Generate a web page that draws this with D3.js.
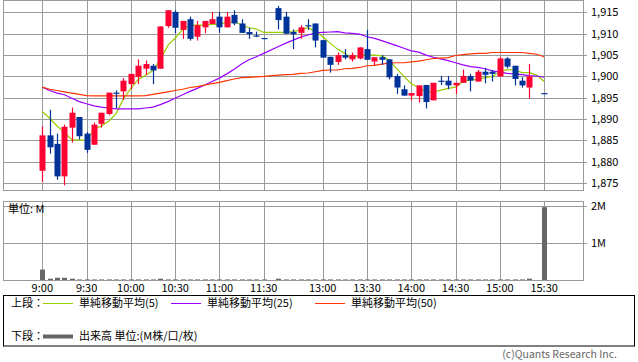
<!DOCTYPE html>
<meta charset="utf-8">
<style>
body { margin: 0; background: #fff; }
svg { display: block; font-family: "Noto Sans CJK JP", "DejaVu Sans", sans-serif; }
.grid line { stroke: #999; shape-rendering: crispEdges; }
.frame { fill: none; stroke: #999; shape-rendering: crispEdges; }
.lbl { font-size: 11px; fill: #000; }
</style>
<svg width="638" height="362"></svg>
<script src="https://cdn.jsdelivr.net/npm/d3@7"></script>
<script>

// 5-minute bars (15:25 is the closing auction: no bar)
var times = ["9:00","9:05","9:10","9:15","9:20","9:25","9:30","9:35","9:40","9:45","9:50","9:55",
  "10:00","10:05","10:10","10:15","10:20","10:25","10:30","10:35","10:40","10:45","10:50","10:55",
  "11:00","11:05","11:10","11:15","11:20","11:25","11:30",
  "12:30","12:35","12:40","12:45","12:50","12:55","13:00","13:05","13:10","13:15","13:20","13:25",
  "13:30","13:35","13:40","13:45","13:50","13:55","14:00","14:05","14:10","14:15","14:20","14:25",
  "14:30","14:35","14:40","14:45","14:50","14:55","15:00","15:05","15:10","15:15","15:20","15:25","15:30"];

var open = [1877.9,1886.2,1884.2,1876.6,1888.0,1890.5,1886.6,1884.0,1888.9,1891.2,1896.2,1896.5,
  1898.2,1899.9,1901.8,1902.5,1901.8,1911.8,1915.1,1910.9,1913.4,1909.3,1911.5,1912.3,
  1914.0,1911.5,1914.4,1912.4,1910.4,1909.6,1909.0,
  1916.0,1914.0,1910.4,1910.2,1912.0,1912.4,1908.5,1904.6,1903.4,1905.0,1904.0,1904.2,
  1906.4,1903.5,1904.5,1904.0,1900.1,1897.0,1895.5,1895.4,1898.0,1894.4,1899.0,1899.0,
  1897.9,1898.5,1900.1,1898.8,1901.1,1901.1,1900.0,1904.2,1902.5,1899.0,1897.4,null,1896.1];
var high = [1888.3,1892.2,1886.6,1888.7,1892.7,1890.5,1887.0,1889.2,1891.5,1896.2,1896.7,1899.6,
  1900.6,1904.0,1903.7,1902.9,1911.7,1915.5,1915.5,1913.0,1914.0,1913.0,1913.0,1915.1,
  1915.1,1915.1,1915.5,1913.4,1911.4,1910.5,1909.0,
  1916.5,1915.1,1911.0,1912.0,1913.4,1912.4,1908.5,1904.6,1905.6,1906.4,1905.6,1906.8,
  1910.9,1904.5,1905.0,1904.0,1900.6,1897.9,1896.1,1897.9,1898.0,1898.5,1900.1,1900.1,
  1898.5,1901.6,1900.6,1901.5,1902.0,1901.5,1904.6,1904.5,1902.5,1899.8,1902.9,null,1896.1];
var low = [1875.3,1881.9,1875.8,1874.5,1884.5,1885.2,1882.1,1884.0,1888.0,1890.9,1892.6,1894.5,
  1897.0,1898.2,1900.4,1898.2,1901.8,1911.4,1910.1,1908.8,1908.4,1908.4,1910.1,1912.3,
  1910.2,1911.5,1912.0,1910.2,1908.8,1909.2,1909.0,
  1911.0,1909.9,1906.4,1908.8,1910.9,1906.8,1904.4,1900.9,1902.7,1904.0,1903.5,1904.0,
  1903.9,1902.6,1902.7,1899.3,1895.9,1895.5,1894.4,1893.9,1892.5,1894.4,1898.0,1897.0,
  1895.9,1898.5,1896.5,1898.8,1898.4,1898.8,1900.0,1901.9,1897.9,1897.4,1894.8,null,1896.1];
var close = [1886.2,1883.4,1876.6,1888.2,1891.5,1886.0,1882.8,1888.7,1891.5,1896.2,1896.1,1899.0,
  1900.6,1902.5,1902.9,1901.4,1911.7,1915.5,1911.4,1913.0,1908.8,1912.0,1913.0,1913.4,
  1911.5,1914.0,1912.4,1910.2,1909.9,1909.5,1908.9,
  1913.2,1910.0,1909.9,1911.5,1911.9,1908.4,1904.4,1902.7,1905.0,1904.4,1905.0,1906.8,
  1903.9,1904.5,1903.9,1899.8,1897.4,1895.5,1896.1,1897.9,1894.0,1898.5,1898.9,1897.9,
  1898.5,1900.1,1899.0,1901.1,1900.4,1900.6,1904.2,1902.3,1899.4,1897.9,1900.0,null,1895.9];

// volume, millions of shares
var volume = [0.28,0.035,0.06,0.06,0.035,0.015,0.015,0.015,0.015,0.015,0.015,0.015,
  0.015,0.015,0.015,0.015,0.035,0.015,0.015,0.015,0.015,0.015,0.015,0.015,
  0.015,0.015,0.015,0.015,0.015,0.015,0.015,
  0.035,0.015,0.015,0.015,0.015,0.015,0.015,0.015,0.015,0.015,0.015,0.015,
  0.015,0.015,0.015,0.015,0.015,0.015,0.015,0.015,0.015,0.015,0.015,0.015,
  0.015,0.015,0.015,0.015,0.015,0.015,0.015,0.015,0.015,0.015,0.035,0,1.96];

// moving averages
var sma5 = [1891.8,1890.2,1888.4,1886.9,1885.2,1885.1,1885.0,1887.6,1888.4,1889.5,1891.3,1894.8,
  1897.2,1899.3,1900.3,1901.4,1904.0,1907.2,1909.0,1910.9,1912.0,1912.0,1912.0,1912.2,
  1912.2,1912.7,1912.8,1912.1,1911.4,1911.1,1910.3,
  1910.3,1910.3,1910.5,1910.9,1911.4,1910.5,1909.3,1907.8,1906.4,1905.4,1904.2,1905.0,
  1905.0,1905.0,1904.8,1903.8,1901.9,1900.0,1898.3,1897.4,1896.4,1896.3,1896.8,1897.2,
  1897.5,1898.8,1899.2,1899.3,1899.7,1900.0,1901.1,1901.6,1901.5,1900.9,1900.9,1900.3,1898.8];
var sma25 = [1897.5,1896.7,1896.1,1895.7,1894.9,1894.1,1893.6,1893.1,1892.8,1892.6,1892.4,1892.4,
  1892.4,1892.4,1892.6,1892.8,1893.4,1894.1,1894.9,1895.7,1896.5,1897.2,1898.0,1898.8,
  1899.6,1900.6,1901.7,1902.9,1903.9,1904.6,1905.4,
  1907.0,1907.8,1908.5,1909.2,1909.7,1910.2,1910.3,1910.4,1910.5,1910.2,1910.1,1909.9,
  1909.3,1908.9,1908.4,1907.8,1907.2,1906.6,1906.0,1905.7,1905.0,1904.5,1904.1,1903.7,
  1903.2,1902.7,1902.3,1902.1,1901.8,1901.3,1901.0,1900.7,1900.6,1900.4,1900.2,1900.1,1899.8];
var sma50 = [1897.5,1897.0,1896.7,1896.4,1896.1,1895.8,1895.5,1895.45,1895.45,1895.45,1895.45,1895.45,
  1895.45,1895.45,1895.5,1895.8,1896.1,1896.4,1896.7,1897.0,1897.4,1897.6,1898.0,1898.3,
  1898.6,1899.0,1899.4,1899.7,1899.8,1899.9,1900.0,
  1900.3,1900.4,1900.5,1900.7,1900.8,1901.1,1901.4,1901.5,1901.5,1901.8,1901.9,1902.1,
  1902.5,1902.6,1902.9,1903.1,1903.2,1903.2,1903.4,1903.6,1903.9,1904.2,1904.3,1904.4,
  1904.9,1905.1,1905.3,1905.4,1905.4,1905.6,1905.6,1905.6,1905.6,1905.6,1905.4,1905.2,1904.6];

var priceTicks = [1875,1880,1885,1890,1895,1900,1905,1910,1915];
var volumeTicks = [1,2];
var timeTicks = ["9:00","9:30","10:00","10:30","11:00","11:30","13:00","13:30","14:00","14:30","15:00","15:30"];

var legendTop = [
  {name: "単純移動平均(5)", color: "#99cc00", x: 43},
  {name: "単純移動平均(25)", color: "#9900ff", x: 171},
  {name: "単純移動平均(50)", color: "#ff3300", x: 315}
];

var upColor = "#ff0033", downColor = "#003399";

var svg = d3.select("svg");

function minutes(t) { var p = t.split(":"); return +p[0] * 60 + +p[1]; }

// trading-time scale: the lunch break collapses to a two-slot gap
var step = 7.38;
var x = d3.scaleLinear()
    .domain([540, 690, 750, 930])
    .range([42.3, 42.3 + 30 * step, 42.3 + 32 * step, 42.3 + 68 * step]);

var left = 3, right = 583;
var y = d3.scaleLinear().domain([1873.4, 1917.9]).range([190, 0]);
var yv = d3.scaleLinear().domain([0, 2.1]).range([280, 202]);

var bars = times.map(function(t, i) {
  return {t: t, x: x(minutes(t)), o: open[i], h: high[i], l: low[i], c: close[i], v: volume[i]};
});

// ---- price panel grid
var grid = svg.append("g").attr("class", "grid");
grid.selectAll(".py").data(priceTicks).enter().append("line")
    .attr("x1", left).attr("x2", right + 4)
    .attr("y1", function(d) { return Math.round(y(d)) + 0.5; })
    .attr("y2", function(d) { return Math.round(y(d)) + 0.5; });
grid.selectAll(".px").data(timeTicks).enter().append("line")
    .attr("x1", function(d) { return Math.round(x(minutes(d))) + 0.5; })
    .attr("x2", function(d) { return Math.round(x(minutes(d))) + 0.5; })
    .attr("y1", 0).attr("y2", 190);
svg.append("rect").attr("class", "frame")
    .attr("x", left + 0.5).attr("y", 0.5).attr("width", right - left).attr("height", 189.5);

svg.append("g").selectAll("text").data(priceTicks).enter().append("text")
    .attr("class", "lbl")
    .attr("x", 591).attr("y", function(d) { return y(d); }).attr("dy", "0.35em")
    .text(d3.format(","));

// ---- moving averages
var line = d3.line().x(function(d) { return d[0]; }).y(function(d) { return y(d[1]); });
[[sma5, "#99cc00"], [sma25, "#9900ff"], [sma50, "#ff3300"]].forEach(function(s) {
  svg.append("path")
      .datum(bars.map(function(b, i) { return [b.x, s[0][i]]; }))
      .attr("fill", "none").attr("stroke", s[1]).attr("stroke-width", 1.2)
      .attr("d", line);
});

// ---- candles
var candle = svg.append("g").selectAll("g")
  .data(bars.filter(function(b) { return b.o != null; }))
  .enter().append("g");
candle.append("line")
    .attr("x1", function(d) { return Math.round(d.x) + 0.5; })
    .attr("x2", function(d) { return Math.round(d.x) + 0.5; })
    .attr("y1", function(d) { return y(d.h); })
    .attr("y2", function(d) { return y(d.l); })
    .attr("stroke", function(d) { return d.c >= d.o ? upColor : downColor; })
    .attr("stroke-width", 1.2);
candle.append("rect")
    .attr("x", function(d) { return Math.round(d.x) - 2.5; })
    .attr("width", 6)
    .attr("y", function(d) { return y(Math.max(d.o, d.c)); })
    .attr("height", function(d) { return Math.max(1.2, Math.abs(y(d.o) - y(d.c))); })
    .attr("fill", function(d) { return d.c >= d.o ? upColor : downColor; });

// ---- volume panel
var vgrid = svg.append("g").attr("class", "grid");
vgrid.selectAll(".vy").data(volumeTicks).enter().append("line")
    .attr("x1", left).attr("x2", right + 4)
    .attr("y1", function(d) { return Math.round(yv(d)) + 0.5; })
    .attr("y2", function(d) { return Math.round(yv(d)) + 0.5; });
vgrid.selectAll(".vx").data(timeTicks).enter().append("line")
    .attr("x1", function(d) { return Math.round(x(minutes(d))) + 0.5; })
    .attr("x2", function(d) { return Math.round(x(minutes(d))) + 0.5; })
    .attr("y1", 201.5).attr("y2", 280);
svg.append("rect").attr("class", "frame")
    .attr("x", left + 0.5).attr("y", 201.5).attr("width", right - left).attr("height", 78.5);

svg.append("g").selectAll("rect").data(bars).enter().append("rect")
    .attr("x", function(d) { return Math.round(d.x) - 2; })
    .attr("width", 5)
    .attr("y", function(d) { return yv(d.v); })
    .attr("height", function(d) { return yv(0) - yv(d.v); })
    .attr("fill", "#666");

svg.append("g").selectAll("text").data(volumeTicks).enter().append("text")
    .attr("class", "lbl")
    .attr("x", 591).attr("y", function(d) { return yv(d); }).attr("dy", "0.35em")
    .text(function(d) { return d + "M"; });

svg.append("text").attr("class", "lbl").attr("x", 8).attr("y", 213).text("単位: M");

svg.append("g").selectAll("text").data(timeTicks).enter().append("text")
    .attr("class", "lbl")
    .attr("x", function(d) { return x(minutes(d)); }).attr("y", 292)
    .attr("text-anchor", "middle")
    .text(function(d) { return d; });

// ---- legend box
svg.append("rect")
    .attr("x", 3.5).attr("y", 295.5).attr("width", 631).attr("height", 50.5)
    .attr("fill", "none").attr("stroke", "#000");
svg.append("text").attr("class", "lbl").attr("x", 11).attr("y", 307).text("上段：");
var lg = svg.append("g").selectAll("g").data(legendTop).enter().append("g");
lg.append("line")
    .attr("x1", function(d) { return d.x; }).attr("x2", function(d) { return d.x + 30; })
    .attr("y1", 303.5).attr("y2", 303.5)
    .attr("stroke", function(d) { return d.color; });
lg.append("text").attr("class", "lbl")
    .attr("x", function(d) { return d.x + 36; }).attr("y", 307)
    .text(function(d) { return d.name; });

svg.append("text").attr("class", "lbl").attr("x", 11).attr("y", 340).text("下段：");
svg.append("line").attr("x1", 43).attr("x2", 73).attr("y1", 336.5).attr("y2", 336.5)
    .attr("stroke", "#666").attr("stroke-width", 4);
svg.append("text").attr("class", "lbl").attr("x", 79).attr("y", 340).text("出来高 単位:(M株/口/枚)");

svg.append("text").attr("x", 617).attr("y", 358).attr("text-anchor", "end")
    .style("font-size", "10.5px").attr("fill", "#666")
    .text("(c)Quants Research Inc.");

</script>
